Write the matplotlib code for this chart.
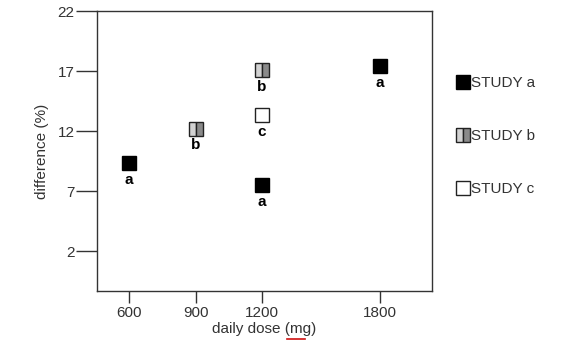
import numpy as np
import matplotlib
matplotlib.use('Agg')
from matplotlib import pyplot as plt
from matplotlib.lines import Line2D

plt.rcParams['font.family'] = ['Liberation Sans', 'DejaVu Sans']

# daily dose (mg) and difference (%) per study
dose_a = [600, 1200, 1800]
diff_a = [9.3, 7.5, 17.4]
dose_b = [900, 1200]
diff_b = [12.2, 17.1]
dose_c = [1200]
diff_c = [13.3]

dose_ticks = [600, 900, 1200, 1800]
diff_ticks = [2, 7, 12, 17, 22]

# uneven spacing of the dose axis (1800 sits closer than a linear scale would put it)
knots = [0, 600, 900, 1200, 1800, 3000]
where = [-5, 129, 196, 262, 380, 616]

def fwd(x):
    return np.interp(x, knots, where)

def inv(p):
    return np.interp(p, where, knots)

fig = plt.figure(figsize=(5.7, 3.41), dpi=100)
ax = fig.add_axes([0.170, 0.1466, 0.588, 0.821])
ax.set_xscale('function', functions=(fwd, inv))

edge = '#222222'
msize = 10
ax.plot(dose_a, diff_a, 's', ms=msize, mfc='black', mec='black', ls='none')
ax.plot(dose_b, diff_b, 's', ms=msize, mfc='#d2d2d2', mfcalt='#8a8a8a',
        fillstyle='left', mec=edge, mew=1, ls='none')
ax.plot(dose_c, diff_c, 's', ms=msize, mfc='white', mec=edge, mew=1, ls='none')

for xs, ys, tag in [(dose_a, diff_a, 'a'), (dose_b, diff_b, 'b'), (dose_c, diff_c, 'c')]:
    for x, y in zip(xs, ys):
        ax.annotate(tag, (x, y), xytext=(0, -12), textcoords='offset points',
                    ha='center', va='center', fontsize=11, fontweight='bold')

ax.set_xlim(457, 2064)
ax.set_ylim(-1.33, 22)
ax.set_xticks(dose_ticks)
ax.set_xticklabels([str(d) for d in dose_ticks])
ax.set_yticks(diff_ticks)
ax.minorticks_off()
ax.tick_params(axis='y', length=15, width=1, color='#333333', labelsize=11,
               pad=1, labelcolor='#333333')
ax.tick_params(axis='x', length=8.5, width=1, color='#333333', labelsize=11,
               pad=2.5, labelcolor='#333333')
for s in ax.spines.values():
    s.set_color('#333333')
    s.set_linewidth(1)

ax.set_xlabel('daily dose (mg)', fontsize=11, color='#333333', labelpad=1.5)
ax.set_ylabel('difference (%)', fontsize=11, color='#333333', labelpad=6)

handles = [
    Line2D([], [], marker='s', ms=msize, mfc='black', mec='black', ls='none'),
    Line2D([], [], marker='s', ms=msize, mfc='#d2d2d2', mfcalt='#8a8a8a',
           fillstyle='left', mec=edge, ls='none'),
    Line2D([], [], marker='s', ms=msize, mfc='white', mec=edge, ls='none'),
]
ax.legend(handles, ['STUDY a', 'STUDY b', 'STUDY c'], loc='upper left',
          bbox_to_anchor=(1.05, 0.795), frameon=False, fontsize=11,
          handlelength=0.8, handletextpad=0.15, labelspacing=2.55,
          borderpad=0, labelcolor='#333333')

# red spell-check squiggle under "mg"
fig.add_artist(Line2D([287 / 570, 305 / 570], [0.006, 0.006], color='#d01010', lw=1.2))

fig.savefig('out.png', dpi=100)
